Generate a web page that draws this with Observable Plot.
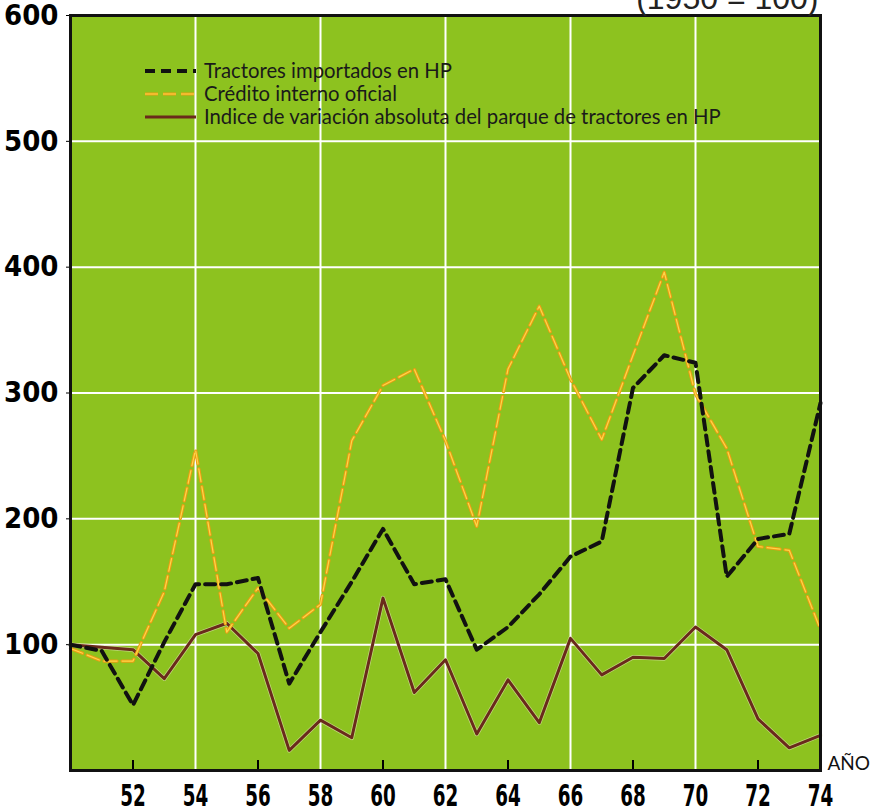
<!DOCTYPE html>
<html>
<head>
<meta charset="utf-8">
<script src="https://cdn.jsdelivr.net/npm/d3@7"></script>
<script src="https://cdn.jsdelivr.net/npm/@observablehq/plot@0.6"></script>
<style>
  html, body { margin: 0; padding: 0; background: #fff; }
  #chart { position: relative; width: 886px; height: 811px; overflow: hidden; }
</style>
</head>
<body>
<div id="chart"></div>
<script>
const years = [1950,1951,1952,1953,1954,1955,1956,1957,1958,1959,1960,1961,1962,1963,1964,1965,1966,1967,1968,1969,1970,1971,1972,1973,1974];
const tractores = [100,95,52,102,148,148,153,69,110,150,192,148,152,96,114,140,170,182,304,330,324,154,184,188,292];
const credito = [97,87,87,142,255,110,145,113,132,262,306,319,262,194,319,369,311,263,330,396,299,256,178,175,112];
const indice = [100,98,96,73,108,117,93,16,40,26,137,62,88,29,72,38,105,76,90,89,114,96,41,18,28];
const yTicks = [100,200,300,400,500,600];
const xLabels = [52,54,56,58,60,62,64,66,68,70,72,74];
const gridYears = [1954,1958,1962,1966,1970];
const tickYears = [1952,1956,1960,1964,1968,1972];
const seriesNames = ["Tractores importados en HP","Crédito interno oficial","Indice de variación absoluta del parque de tractores en HP"];
const titleText = "(1950 = 100)";
const axisName = "AÑO";

const rows = (vals) => years.map((y, i) => ({year: y, value: vals[i]}));
const condFont = "'DejaVu Sans Condensed', 'DejaVu Sans', sans-serif";
const boldFont = "'DejaVu Sans', sans-serif";

const chart = Plot.plot({
  width: 886,
  height: 811,
  marginTop: 15,
  marginLeft: 70,
  marginRight: 66,
  marginBottom: 41,
  style: {background: "transparent", overflow: "visible"},
  x: {domain: [1950, 1974]},
  y: {domain: [0, 600]},
  marks: [
    Plot.frame({fill: "#8dc21f"}),
    Plot.gridX(gridYears, {stroke: "white", strokeOpacity: 1, strokeWidth: 2}),
    Plot.gridY(yTicks.slice(0, 5), {stroke: "white", strokeOpacity: 1, strokeWidth: 2}),
    Plot.ruleX(tickYears, {x: d => d, y1: 0, y2: 8, stroke: "black", strokeWidth: 2}),
    Plot.axisY(yTicks, {tickSize: 4, tickPadding: 8, fontSize: 29, fontWeight: "bold", fontFamily: condFont, fill: "black", label: null}),
    Plot.axisX(xLabels.map(d => 1900 + d), {tickSize: 0, tickPadding: 14, fontSize: 27, fontWeight: "bold", fontFamily: boldFont, tickFormat: d => String(d % 100), label: null}),
    Plot.line(rows(indice), {x: "year", y: "value", stroke: "#f4efd8", strokeWidth: 4.5, strokeOpacity: 0.5}),
    Plot.line(rows(indice), {x: "year", y: "value", stroke: "#6a2a1b", strokeWidth: 3}),
    Plot.line(rows(credito), {x: "year", y: "value", stroke: "#ec9c12", strokeWidth: 3.2, strokeDasharray: "13,5"}),
    Plot.line(rows(credito), {x: "year", y: "value", stroke: "#fcd84a", strokeWidth: 1.2, strokeDasharray: "13,5"}),
    Plot.line(rows(tractores), {x: "year", y: "value", stroke: "#111", strokeWidth: 4, strokeDasharray: "10,6"}),
    Plot.frame({stroke: "#111", strokeWidth: 3}),
    Plot.text([titleText], {frameAnchor: "top-right", textAnchor: "end", lineAnchor: "bottom", dy: -7, dx: -2, fontSize: 32, fontFamily: "'Liberation Sans', sans-serif", fill: "#222"}),
    Plot.text([axisName], {frameAnchor: "bottom-right", textAnchor: "start", lineAnchor: "bottom", dx: 7, dy: -1, fontSize: 19, fontFamily: "Lato, sans-serif", fill: "#111"})
  ]
});

document.getElementById("chart").appendChild(chart);

const svg = d3.select(chart);
// condense the x tick labels horizontally, like the reference's narrow bold face
svg.selectAll('g[aria-label="x-axis tick label"] text').each(function() {
  const t = d3.select(this);
  const tr = t.attr("transform") || "";
  const x = parseFloat(t.attr("x")) || 0;
  t.attr("x", null).attr("transform", `${tr} translate(${x},0) scale(0.68,1.1)`);
});

// Legend inside the plot (top-left)
const lg = svg.append("g").attr("transform", "translate(145,71)");
const styles = [
  [{stroke: "#111", width: 4, dash: "10,6"}],
  [{stroke: "#ec9c12", width: 3.2, dash: "13,5"}, {stroke: "#fcd84a", width: 1.2, dash: "13,5"}],
  [{stroke: "#6a2a1b", width: 3, dash: null}]
];
seriesNames.forEach((name, i) => {
  const g = lg.append("g").attr("transform", `translate(0,${i * 23})`);
  styles[i].forEach(s => {
    const l = g.append("line").attr("x1", 0).attr("x2", 51).attr("y1", 0).attr("y2", 0)
      .attr("stroke", s.stroke).attr("stroke-width", s.width);
    if (s.dash) l.attr("stroke-dasharray", s.dash);
  });
  g.append("text").attr("x", 59).attr("y", 0).attr("dy", "0.35em")
    .attr("text-anchor", "start")
    .attr("font-family", "Lato, sans-serif").attr("font-size", 20.3).attr("fill", "#1a1a1a")
    .text(name);
});
</script>
</body>
</html>
